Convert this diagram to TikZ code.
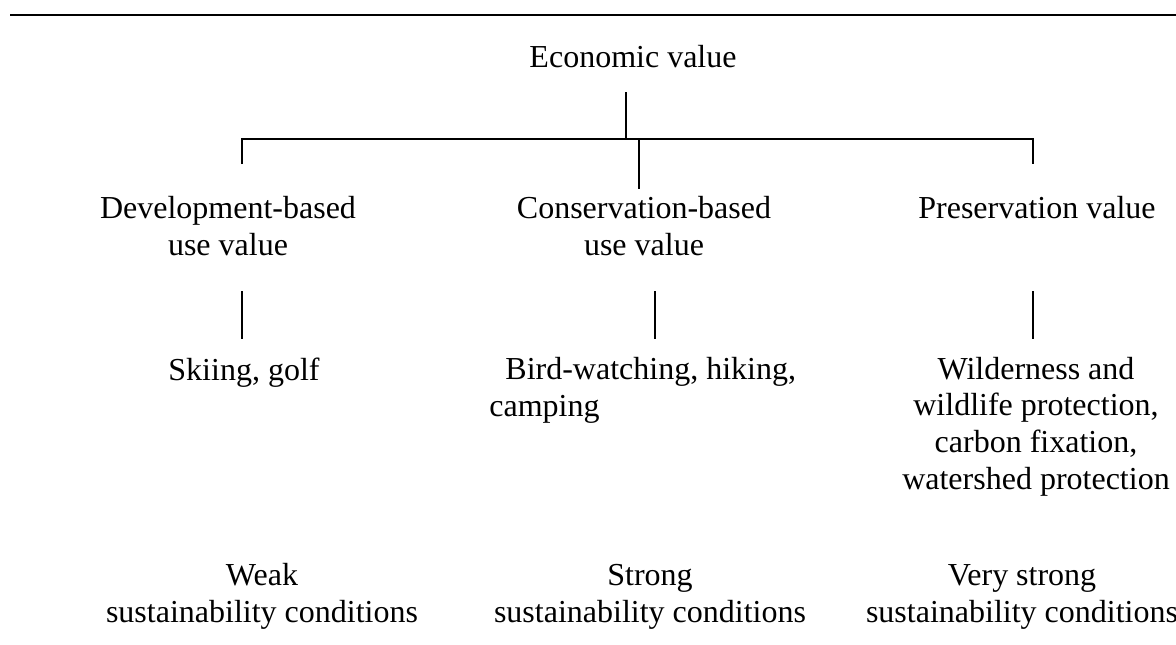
\documentclass[tikz,border=0pt]{standalone}
\usepackage{fontspec}
\setmainfont{Liberation Serif}
\newcommand\valfont{\fontsize{16}{18.3}\selectfont}
\tikzset{
  lbl/.style={inner sep=0pt, anchor=base, align=center, font=\valfont},
  branch/.style={line width=0.65pt},
}

\begin{document}
\begin{tikzpicture}[x=0.5pt, y=-0.5pt]
\useasboundingbox (0,0) rectangle (1176,644);
\coordinate (r0) at (10,15);
\coordinate (r1) at (1176,15);
\draw [line width=1pt] (r0) -- (r1);

\node [lbl] (ev) at (633,67) {Economic value};
\node [lbl] (dev) at (228,255) {Development-based\\use value};
\node [lbl] (cons) at (644,255) {Conservation-based\\use value};
\node [lbl] (pres) at (1037,218) {Preservation value};
\node [lbl] (ski) at (244,380) {Skiing, golf};
\node [lbl, anchor=base west, align=left] (bird) at (489,416) {\hspace{8pt}Bird-watching, hiking,\\camping};
\node [lbl] (wild) at (1036,489) {Wilderness and\\wildlife protection,\\carbon fixation,\\watershed protection};
\node [lbl] (weak) at (262,622) {Weak\\sustainability conditions};
\node [lbl] (strong) at (650,622) {Strong\\sustainability conditions};
\node [lbl] (vstrong) at (1022,622) {Very strong\\sustainability conditions};

\coordinate (s0) at (626,92);
\coordinate (s1) at (626,139);
\coordinate (bl) at (242,164);
\coordinate (bm) at (639,189);
\coordinate (br) at (1033,164);
\draw [branch] (s0) -- (s1);
\draw [branch] (bl) |- (s1) -| (br);
\draw [branch] (s1 -| bm) -- (bm);
\foreach \x/\n in {242/a,655/b,1033/c} {
  \coordinate (\n1) at (\x,291);
  \coordinate (\n2) at (\x,339);
  \draw [branch] (\n1) -- (\n2);
}
\end{tikzpicture}
\end{document}
